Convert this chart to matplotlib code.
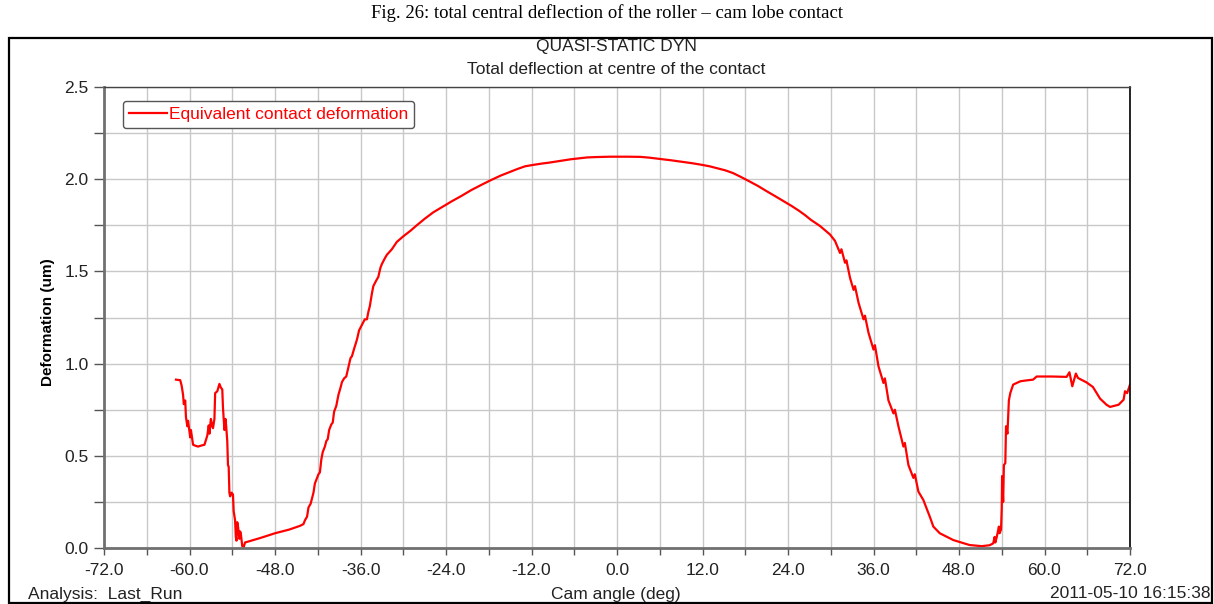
import numpy as np
import matplotlib
matplotlib.use("agg")
import matplotlib.pyplot as plt
from matplotlib.patches import Rectangle
from matplotlib.ticker import MultipleLocator, FormatStrFormatter

# cam angle (deg) and equivalent contact deformation (um)
cam_angle = [
    -61.9, -61.3, -61.1, -60.9, -60.8, -60.6, -60.5, -60.3, -60.2, -59.9,
    -59.8, -59.5, -59.2, -58.8, -58.4, -57.9, -57.7, -57.5, -57.3, -57.2,
    -57.0, -56.8, -56.7, -56.5, -56.4, -56.1, -55.8, -55.6, -55.4, -55.3,
    -55.1, -54.95, -54.85, -54.7, -54.6, -54.5, -54.4, -54.3, -54.1, -53.9,
    -53.8, -53.6, -53.5, -53.4, -53.3, -53.2, -53.0, -52.9, -52.8, -52.6,
    -52.4, -52.2, -50.0, -48.0, -46.0, -44.5, -44.0, -43.8, -43.5, -43.3,
    -43.0, -42.8, -42.6, -42.4, -42.2, -41.9, -41.7, -41.5, -41.3, -41.0,
    -40.8, -40.6, -40.4, -40.1, -39.9, -39.7, -39.4, -39.1, -38.8, -38.6,
    -38.3, -38.0, -37.7, -37.4, -37.2, -36.9, -36.5, -36.2, -35.8, -35.4,
    -35.1, -34.9, -34.7, -34.4, -34.2, -33.8, -33.5, -33.2, -33.0, -32.6,
    -32.3, -31.6, -30.9, -30.0, -29.0, -28.1, -27.0, -25.8, -24.5, -23.2,
    -21.8, -20.5, -19.0, -17.7, -16.3, -15.0, -14.0, -12.9, -11.7, -10.5,
    -9.5, -8.5, -7.5, -6.5, -5.3, -4.2, -3.0, -2.0, -1.0, 0.0,
    1.5, 3.3, 4.5, 6.0, 7.5, 9.0, 10.5, 11.9, 13.0, 14.0,
    15.2, 16.3, 17.4, 18.5, 19.8, 21.0, 22.2, 23.4, 24.5, 25.5,
    26.4, 27.2, 28.5, 29.9, 30.6, 31.3, 31.5, 32.0, 32.2, 32.7,
    33.2, 33.4, 33.9, 34.6, 34.8, 35.3, 36.0, 36.2, 36.7, 37.4,
    37.6, 38.1, 38.8, 39.0, 39.5, 40.2, 40.4, 40.9, 41.6, 41.8,
    42.3, 43.0, 43.9, 44.4, 45.3, 47.2, 49.5, 51.2, 52.3, 52.8,
    53.0, 53.1, 53.3, 53.6, 53.7, 53.9, 54.0, 54.05, 54.2, 54.3,
    54.5, 54.6, 54.7, 54.8, 55.0, 55.2, 55.6, 56.6, 57.5, 58.4,
    58.9, 61.0, 63.1, 63.5, 63.9, 64.4, 64.7, 65.9, 66.8, 67.8,
    68.7, 69.2, 70.4, 71.1, 71.3, 71.6, 72.0,
]
deformation = [
    0.913, 0.91, 0.88, 0.83, 0.78, 0.80, 0.71, 0.66, 0.69, 0.60,
    0.64, 0.56, 0.555, 0.55, 0.555, 0.56, 0.585, 0.61, 0.665, 0.62,
    0.70, 0.66, 0.65, 0.70, 0.84, 0.85, 0.89, 0.87, 0.86, 0.76,
    0.64, 0.70, 0.66, 0.58, 0.45, 0.44, 0.30, 0.28, 0.30, 0.29,
    0.20, 0.15, 0.06, 0.04, 0.14, 0.12, 0.05, 0.09, 0.08, 0.01,
    0.005, 0.03, 0.055, 0.08, 0.10, 0.12, 0.13, 0.15, 0.17, 0.22,
    0.24, 0.27, 0.30, 0.35, 0.37, 0.40, 0.41, 0.48, 0.52, 0.55,
    0.58, 0.59, 0.64, 0.67, 0.68, 0.74, 0.77, 0.83, 0.87, 0.90,
    0.92, 0.93, 0.98, 1.03, 1.04, 1.08, 1.13, 1.18, 1.21, 1.24,
    1.24, 1.28, 1.31, 1.38, 1.42, 1.45, 1.47, 1.52, 1.54, 1.57,
    1.59, 1.62, 1.66, 1.69, 1.72, 1.75, 1.785, 1.82, 1.85, 1.88,
    1.91, 1.94, 1.97, 1.995, 2.02, 2.04, 2.055, 2.07, 2.078, 2.085,
    2.09, 2.096, 2.102, 2.108, 2.113, 2.118, 2.12, 2.121, 2.122, 2.122,
    2.122, 2.121, 2.117, 2.11, 2.103, 2.095, 2.087, 2.078, 2.07, 2.06,
    2.048, 2.033, 2.012, 1.99, 1.963, 1.935, 1.908, 1.88, 1.855, 1.83,
    1.805, 1.78, 1.746, 1.70, 1.665, 1.60, 1.62, 1.547, 1.56, 1.466,
    1.40, 1.42, 1.33, 1.24, 1.26, 1.167, 1.076, 1.10, 0.985, 0.895,
    0.92, 0.80, 0.73, 0.75, 0.66, 0.55, 0.57, 0.45, 0.38, 0.40,
    0.306, 0.26, 0.17, 0.116, 0.08, 0.043, 0.016, 0.01, 0.015, 0.025,
    0.06, 0.03, 0.06, 0.116, 0.08, 0.10, 0.22, 0.39, 0.25, 0.45,
    0.46, 0.66, 0.64, 0.62, 0.80, 0.84, 0.886, 0.904, 0.909, 0.913,
    0.93, 0.93, 0.928, 0.953, 0.877, 0.946, 0.922, 0.898, 0.873, 0.81,
    0.777, 0.765, 0.777, 0.804, 0.85, 0.84, 0.886,
]

sans = "Liberation Sans"
txt = "#222222"
fs = 12.5

fig = plt.figure(figsize=(12.14, 6.04), dpi=100)
W, H = 1214, 604

# frame around the plot panel
fig.patches.append(Rectangle((9 / W, 1 / H), 1203 / W, 565 / H, transform=fig.transFigure,
                             fill=False, edgecolor="black", linewidth=1.6))

fig.text(0.5, 1 - 13 / H, "Fig. 26: total central deflection of the roller \u2013 cam lobe contact",
         ha="center", va="center", family="Liberation Serif", fontsize=13.5, color="black")
fig.text(616 / W, 1 - 47 / H, "QUASI-STATIC DYN", ha="center", va="center",
         family=sans, fontsize=fs, color=txt)
fig.text(616 / W, 1 - 70 / H, "Total deflection at centre of the contact", ha="center", va="center",
         family=sans, fontsize=fs, color=txt)

ax = fig.add_axes([104 / W, 1 - 548 / H, 1026 / W, 461 / H])
ax.plot(cam_angle, deformation, color="red", linewidth=1.6, label="Equivalent contact deformation")

ax.set_xlim(-72, 72)
ax.set_ylim(0, 2.5)
ax.xaxis.set_major_locator(MultipleLocator(12))
ax.xaxis.set_minor_locator(MultipleLocator(6))
ax.yaxis.set_major_locator(MultipleLocator(0.5))
ax.yaxis.set_minor_locator(MultipleLocator(0.25))
ax.xaxis.set_major_formatter(FormatStrFormatter("%.1f"))
ax.yaxis.set_major_formatter(FormatStrFormatter("%.1f"))
ax.grid(True, which="both", color="#c8c8c8", linewidth=1.0)
ax.set_axisbelow(True)
ax.tick_params(which="both", direction="out", width=1, color="#555555",
               labelsize=fs, labelcolor=txt)
ax.tick_params(axis="x", which="both", length=5, pad=6)
ax.tick_params(axis="y", which="both", length=7, pad=4)
for lab in ax.get_xticklabels() + ax.get_yticklabels():
    lab.set_family(sans)

for side in ("left", "bottom"):
    ax.spines[side].set_color("#707070")
    ax.spines[side].set_linewidth(2)
ax.spines["top"].set_color("#444444")
ax.spines["top"].set_linewidth(1)
ax.spines["right"].set_color("black")
ax.spines["right"].set_linewidth(1.2)

fig.text(48 / W, 1 - 322 / H, "Deformation (um)", rotation=90, ha="center", va="center",
         family=sans, fontsize=11, fontweight="bold", color="black")

leg = ax.legend(loc="upper left", bbox_to_anchor=(0.0185, 0.97), borderaxespad=0,
                prop={"family": sans, "size": fs}, handlelength=2.2, handletextpad=0.1,
                borderpad=0.35, fancybox=True, framealpha=1, edgecolor="#555555")
leg.get_frame().set_linewidth(1)
for t in leg.get_texts():
    t.set_color("red")

fig.text(28 / W, 1 - 594 / H, "Analysis:  Last_Run", ha="left", va="center",
         family=sans, fontsize=fs, color=txt)
fig.text(616 / W, 1 - 594 / H, "Cam angle (deg)", ha="center", va="center",
         family=sans, fontsize=fs, color=txt)
fig.text(1210 / W, 1 - 594 / H, "2011-05-10 16:15:38", ha="right", va="center",
         family=sans, fontsize=fs, color=txt)

fig.savefig("out.png", dpi=100)
